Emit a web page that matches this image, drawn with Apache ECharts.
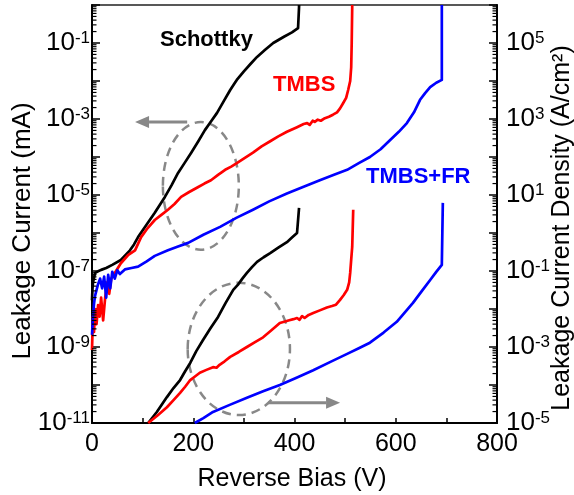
<!DOCTYPE html>
<html>
<head>
<meta charset="utf-8">
<script src="https://cdn.jsdelivr.net/npm/echarts@6/dist/echarts.min.js"></script>
<style>
  html, body { margin: 0; padding: 0; background: #fff; }
  #chart { width: 574px; height: 495px; }
</style>
</head>
<body>
<div id="chart"></div>
<script>
// Reverse bias sweep (V) and leakage current (mA), left axis
const schottkyV = [0, 1, 2, 6, 12, 18, 28, 40, 57, 66, 75, 83, 91, 107, 124, 144, 157, 170, 183, 196, 210, 223, 235, 247, 260, 273, 282, 286, 300, 313, 326, 342, 358, 380, 395, 407, 409, 409];
const schottkyI = [1.7e-8, 3.5e-8, 5.0e-8, 8.9e-8, 9.8e-8, 1.07e-7, 1.2e-7, 1.45e-7, 1.95e-7, 2.6e-7, 3.5e-7, 5.0e-7, 7.8e-7, 1.6e-6, 3.4e-6, 8.9e-6, 1.8e-5, 3.8e-5, 7.0e-5, 1.3e-4, 2.6e-4, 5.1e-4, 8.6e-4, 1.45e-3, 2.9e-3, 5.8e-3, 8.9e-3, 1.07e-2, 1.8e-2, 2.8e-2, 4.3e-2, 6.6e-2, 0.1, 0.148, 0.19, 0.245, 0.89, 1];

const tmbsV = [0, 1, 2, 4, 6, 9, 12, 15, 18, 22, 26, 30, 34, 38, 45, 57, 71, 85, 97, 110, 124, 137, 150, 163, 176, 192, 209, 222, 235, 249, 263, 275, 286, 302, 318, 335, 352, 368, 385, 405, 418, 425, 430, 436, 440, 446, 452, 460, 468, 476, 484, 490, 496, 502, 506, 510, 512, 513, 514, 514];
const tmbsI = [8.3e-10, 2.5e-9, 6.3e-9, 2.5e-9, 1.0e-8, 4e-9, 1.26e-8, 6.3e-9, 2e-8, 5e-9, 2e-8, 5e-8, 2.5e-8, 6.3e-8, 8.9e-8, 1.6e-7, 2.6e-7, 3.5e-7, 7.8e-7, 1.35e-6, 2.2e-6, 3.0e-6, 4.1e-6, 5.8e-6, 8.9e-6, 1.2e-5, 1.6e-5, 2.0e-5, 2.45e-5, 3.4e-5, 4.6e-5, 5.6e-5, 6.9e-5, 9.5e-5, 1.3e-4, 1.9e-4, 2.6e-4, 3.5e-4, 4.6e-4, 6.1e-4, 7.4e-4, 7.8e-4, 7.0e-4, 9.0e-4, 8.4e-4, 9.6e-4, 9.0e-4, 1.05e-3, 1.15e-3, 1.3e-3, 1.5e-3, 1.9e-3, 2.6e-3, 3.6e-3, 5.8e-3, 1.0e-2, 2.3e-2, 0.1, 0.89, 1];

const tmbsFrV = [0, 2, 4, 6, 9, 12, 16, 20, 24, 28, 32, 36, 40, 45, 50, 55, 65, 78, 91, 108, 124, 150, 170, 190, 220, 253, 285, 318, 350, 385, 418, 450, 478, 504, 527, 549, 570, 589, 606, 622, 636, 648, 658, 668, 680, 691, 691];
const tmbsFrI = [2.1e-9, 6.3e-9, 1.4e-8, 2.2e-8, 3.2e-8, 4.5e-8, 6.3e-8, 3.5e-8, 7.1e-8, 2e-8, 7.9e-8, 3.5e-8, 9.5e-8, 6.3e-8, 1.05e-7, 8.3e-8, 1.1e-7, 1.2e-7, 1.3e-7, 1.8e-7, 2.5e-7, 3.5e-7, 4.4e-7, 5.5e-7, 9.0e-7, 1.45e-6, 2.5e-6, 4.1e-6, 6.8e-6, 1.1e-5, 1.65e-5, 2.45e-5, 3.4e-5, 4.6e-5, 6.9e-5, 1e-4, 1.6e-4, 2.8e-4, 4.6e-4, 7.8e-4, 1.5e-3, 3.2e-3, 4.8e-3, 6.9e-3, 9.0e-3, 1.07e-2, 1];

// Leakage current density (A/cm^2), right axis
const schottkyJV = [111, 128, 148, 161, 174, 184, 194, 206, 219, 234, 249, 264, 279, 288, 297, 306, 316, 326, 339, 352, 368, 385, 395, 405, 409];
const schottkyJ = [1e-5, 1.95e-5, 4.8e-5, 8.3e-5, 1.35e-4, 2.3e-4, 3.8e-4, 7.8e-4, 1.5e-3, 3.1e-3, 6.2e-3, 1.45e-2, 3.2e-2, 4.3e-2, 6.3e-2, 8.9e-2, 0.126, 0.174, 0.23, 0.295, 0.41, 0.575, 0.76, 1.0, 4.6];

const tmbsJV = [111, 130, 148, 161, 174, 184, 194, 204, 213, 226, 239, 246, 252, 262, 273, 290, 306, 322, 338, 355, 371, 388, 398, 405, 410, 415, 420, 428, 437, 450, 464, 474, 482, 490, 497, 504, 508, 510, 512, 514, 516];
const tmbsJ = [1e-5, 1.6e-5, 2.6e-5, 4.0e-5, 6.2e-5, 9.0e-5, 1.35e-4, 1.7e-4, 2.1e-4, 2.5e-4, 2.95e-4, 2.85e-4, 3.4e-4, 4.2e-4, 5.5e-4, 7.4e-4, 1e-3, 1.35e-3, 1.8e-3, 2.8e-3, 4.3e-3, 5.0e-3, 5.4e-3, 5.8e-3, 5.2e-3, 6.5e-3, 5.8e-3, 7.0e-3, 7.8e-3, 9.2e-3, 1.1e-2, 1.2e-2, 1.3e-2, 1.74e-2, 2.3e-2, 3.2e-2, 5.0e-2, 8.9e-2, 0.2, 0.43, 4.1];

const tmbsFrJV = [203, 220, 239, 272, 306, 338, 371, 404, 437, 470, 504, 527, 549, 576, 602, 618, 634, 651, 668, 680, 691, 693];
const tmbsFrJ = [1e-5, 1.35e-5, 1.95e-5, 3.0e-5, 4.6e-5, 6.8e-5, 1e-4, 1.55e-4, 2.45e-4, 4.0e-4, 6.6e-4, 9.3e-4, 1.3e-3, 2.4e-3, 4.6e-3, 8.2e-3, 1.45e-2, 2.9e-2, 5.8e-2, 9.5e-2, 0.145, 6.2];

// Axis ranges
const xMin = 0, xMax = 800;
const iMin = 1e-11, iMax = 1;
const jMin = 1e-5, jMax = 1e6;

// Dashed ellipses grouping each family of curves, and arrows pointing to their axis
const upperEllipse = { v: 215, y: 1.74e-5, halfV: 75, halfDecades: 1.68 };
const lowerEllipse = { v: 290, y: 8.9e-4, halfV: 101, halfDecades: 1.74 };
const upperArrow = { from: 188, to: 85, y: 8.3e-4 };
const lowerArrow = { from: 348, to: 490, y: 3.4e-5 };

const FONT = 'Liberation Sans, Arial, sans-serif';
const pair = (xs, ys) => xs.map((x, i) => [x, ys[i]]);

// Logarithmic minor tick positions (2..9 within each decade)
const minorTicks = [];
for (let k = -11; k < 0; k++) {
  for (let m = 2; m <= 9; m++) minorTicks.push([0, m * Math.pow(10, k)]);
}

function supLabel(v) {
  const e = Math.round(Math.log10(v));
  if (Math.abs(e) % 2 !== 1) return '';
  return '{b|10}{s|' + e + '}';
}
const richLabel = {
  b: { fontSize: 26, fontFamily: FONT, color: '#000' },
  s: { fontSize: 17, fontFamily: FONT, color: '#000', verticalAlign: 'top' }
};

function lineSeries(data, color, yIdx) {
  return {
    type: 'line', data: data, yAxisIndex: yIdx, showSymbol: false, symbol: 'none',
    clip: true, lineStyle: { color: color, width: 2.7, join: 'round' }, itemStyle: { color: color },
    animation: false, z: 3
  };
}

function arrowShape(api, a) {
  const p0 = api.coord([a.from, a.y]);
  const p1 = api.coord([a.to, a.y]);
  const dir = Math.sign(p1[0] - p0[0]);
  const headLen = 14, headHalf = 6;
  const base = p1[0] - dir * headLen;
  return [
    { type: 'line', shape: { x1: p0[0], y1: p0[1], x2: base, y2: p1[1] },
      style: { stroke: '#888', lineWidth: 3 } },
    { type: 'polygon', shape: { points: [[p1[0], p1[1]], [base, p1[1] - headHalf], [base, p1[1] + headHalf]] },
      style: { fill: '#888' } }
  ];
}

function ellipseShape(api, e) {
  const c = api.coord([e.v, e.y]);
  const r = api.coord([e.v + e.halfV, e.y]);
  const t = api.coord([e.v, e.y * Math.pow(10, e.halfDecades)]);
  return { type: 'ellipse', shape: { cx: c[0], cy: c[1], rx: r[0] - c[0], ry: c[1] - t[1] },
    style: { fill: null, stroke: '#888', lineWidth: 2.5, lineDash: [9, 6] } };
}

const chart = echarts.init(document.getElementById('chart'), null, { renderer: 'canvas' });

chart.setOption({
  animation: false,
  backgroundColor: '#fff',
  grid: { left: 92, top: 5, width: 405, height: 418, show: true, borderColor: '#222', borderWidth: 1.5, backgroundColor: 'transparent' },
  xAxis: {
    type: 'value', min: xMin, max: xMax, interval: 100,
    axisLine: { show: true, lineStyle: { color: '#000', width: 2 } },
    axisTick: { show: true, inside: true, length: 5, lineStyle: { color: '#000', width: 1.5 } },
    axisLabel: { fontSize: 25, fontFamily: FONT, color: '#000', margin: 9,
      formatter: v => (v % 200 === 0 ? String(v) : '') },
    splitLine: { show: false }
  },
  yAxis: [
    {
      type: 'log', logBase: 10, min: iMin, max: iMax, interval: 1, position: 'left',
      axisLine: { show: true, onZero: false, lineStyle: { color: '#000', width: 2 } },
      axisTick: { show: true, inside: true, length: 8, lineStyle: { color: '#000', width: 1.5 } },
      axisLabel: { formatter: supLabel, rich: richLabel, margin: 2 },
      splitLine: { show: false }
    },
    {
      type: 'log', logBase: 10, min: jMin, max: jMax, interval: 1, position: 'right',
      axisLine: { show: true, onZero: false, lineStyle: { color: '#000', width: 2 } },
      axisTick: { show: true, inside: true, length: 8, lineStyle: { color: '#000', width: 1.5 } },
      axisLabel: { formatter: supLabel, rich: richLabel, margin: 9 },
      splitLine: { show: false }
    }
  ],
  series: [
    lineSeries(pair(schottkyV, schottkyI), '#000000', 0),
    lineSeries(pair(tmbsV, tmbsI), '#ff0000', 0),
    lineSeries(pair(tmbsFrV, tmbsFrI), '#0000ff', 0),
    lineSeries(pair(schottkyJV, schottkyJ), '#000000', 1),
    lineSeries(pair(tmbsJV, tmbsJ), '#ff0000', 1),
    lineSeries(pair(tmbsFrJV, tmbsFrJ), '#0000ff', 1),
    {
      type: 'custom', yAxisIndex: 0, data: minorTicks, silent: true, z: 4,
      renderItem: (params, api) => {
        const pl = api.coord([xMin, api.value(1)]);
        const pr = api.coord([xMax, api.value(1)]);
        return { type: 'group', children: [
          { type: 'line', shape: { x1: pl[0], y1: pl[1], x2: pl[0] + 4.5, y2: pl[1] }, style: { stroke: '#000', lineWidth: 1.2 } },
          { type: 'line', shape: { x1: pr[0] - 4.5, y1: pr[1], x2: pr[0], y2: pr[1] }, style: { stroke: '#000', lineWidth: 1.2 } }
        ] };
      }
    },
    {
      type: 'custom', yAxisIndex: 0, data: [[upperEllipse.v, upperEllipse.y]], silent: true, z: 2,
      renderItem: (params, api) => ({ type: 'group', children: [ellipseShape(api, upperEllipse)].concat(arrowShape(api, upperArrow)) })
    },
    {
      type: 'custom', yAxisIndex: 1, data: [[lowerEllipse.v, lowerEllipse.y]], silent: true, z: 2,
      renderItem: (params, api) => ({ type: 'group', children: [ellipseShape(api, lowerEllipse)].concat(arrowShape(api, lowerArrow)) })
    }
  ],
  graphic: [
    { type: 'text', left: 160, top: 29, style: { text: 'Schottky', font: 'bold 22px ' + FONT, fill: '#000' } },
    { type: 'text', left: 273, top: 74, style: { text: 'TMBS', font: 'bold 22px ' + FONT, fill: '#ff0000' } },
    { type: 'text', left: 366, top: 166, style: { text: 'TMBS+FR', font: 'bold 22px ' + FONT, fill: '#0000ff' } },
    { type: 'text', x: 23, y: 231, rotation: Math.PI / 2,
      style: { text: 'Leakage Current (mA)', font: '26px ' + FONT, fill: '#000', align: 'center', verticalAlign: 'middle' } },
    { type: 'text', x: 562, y: 228, rotation: Math.PI / 2,
      style: { text: 'Leakage Current Density (A/cm²)', font: '25px ' + FONT, fill: '#000', align: 'center', verticalAlign: 'middle' } },
    { type: 'text', x: 292, y: 479,
      style: { text: 'Reverse Bias (V)', font: '25px ' + FONT, fill: '#000', align: 'center', verticalAlign: 'middle' } }
  ]
});
</script>
</body>
</html>
